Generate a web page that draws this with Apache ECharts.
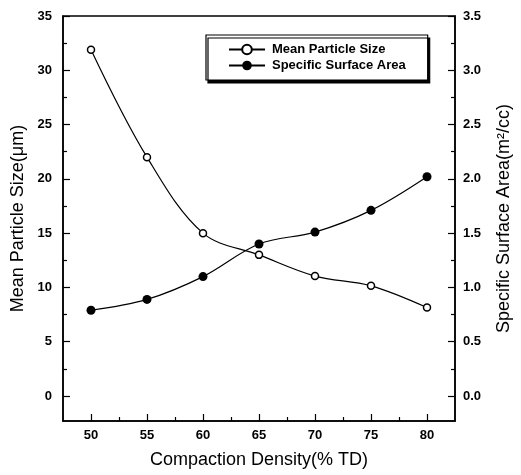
<!DOCTYPE html>
<html>
<head>
<meta charset="utf-8">
<script src="https://cdn.jsdelivr.net/npm/echarts@6/dist/echarts.min.js"></script>
<style>html,body{margin:0;padding:0;background:#fff}#c{width:521px;height:475px}</style>
</head>
<body>
<div id="c"></div>
<script>
const density = [50, 55, 60, 65, 70, 75, 80];
const meanParticleSize = [31.9, 22.0, 15.0, 13.0, 11.05, 10.15, 8.15];
const specificSurfaceArea = [0.79, 0.89, 1.1, 1.4, 1.51, 1.71, 2.02];
const xMajorTicks = [50, 55, 60, 65, 70, 75, 80];
const xMinorTicks = [52.5, 57.5, 62.5, 67.5, 72.5, 77.5];
const leftMajorTicks = [0, 5, 10, 15, 20, 25, 30, 35];
const leftMinorTicks = [2.5, 7.5, 12.5, 17.5, 22.5, 27.5, 32.5];
const rightMajorTicks = [0, 0.5, 1.0, 1.5, 2.0, 2.5, 3.0, 3.5];
const rightMinorTicks = [0.25, 0.75, 1.25, 1.75, 2.25, 2.75, 3.25];

const FONT = '"Liberation Sans", Arial, sans-serif';
const lineCol = '#000';
const chart = echarts.init(document.getElementById('c'), null, {renderer: 'canvas'});

const tickLbl = {fontFamily: FONT, fontSize: 13, fontWeight: 'bold', color: '#000'};

function xAx(major, ticks, showLabel, len) {
  return {
    type: 'value', position: 'bottom', min: 47.5, max: 82.5,
    name: major ? 'Compaction Density(% TD)' : '',
    nameLocation: 'middle', nameGap: 30,
    nameTextStyle: {fontFamily: FONT, fontSize: 18, color: '#000'},
    axisLine: {show: major, onZero: false, lineStyle: {color: lineCol, width: 1.5}},
    axisTick: {show: true, inside: true, length: len, customValues: ticks, lineStyle: {color: lineCol, width: 1.2}},
    axisLabel: {show: showLabel, customValues: ticks, margin: 8, ...tickLbl},
    splitLine: {show: false}
  };
}
function yAx(pos, min, max, ticks, showLabel, len, name, fmt) {
  return {
    type: 'value', position: pos, min: min, max: max,
    name: name, nameLocation: 'middle', nameGap: pos === 'left' ? 32 : 40,
    nameRotate: 90,
    nameTextStyle: {fontFamily: FONT, fontSize: 18, color: '#000'},
    axisLine: {show: !!name, onZero: false, lineStyle: {color: lineCol, width: 1.5}},
    axisTick: {show: true, inside: true, length: len, customValues: ticks, lineStyle: {color: lineCol, width: 1.2}},
    axisLabel: {show: showLabel, customValues: ticks, margin: pos === 'left' ? 11 : 8, formatter: fmt, ...tickLbl},
    splitLine: {show: false}
  };
}

chart.setOption({
  animation: false,
  backgroundColor: '#fff',
  grid: {left: 63, right: 61, top: 16, bottom: 54, show: true, borderColor: '#000', borderWidth: 1.5, backgroundColor: 'transparent'},
  legend: {
    orient: 'vertical', left: 206, top: 35,
    padding: [8, 22, 8, 22], itemGap: 3, itemWidth: 36, itemHeight: 12,
    borderColor: '#000', borderWidth: 1.2, backgroundColor: '#fff',
    shadowColor: '#000', shadowOffsetX: 2, shadowOffsetY: 3, shadowBlur: 0,
    textStyle: {fontFamily: FONT, fontSize: 13, fontWeight: 'bold', color: '#000', padding: [0, 0, 0, 2]},
    data: ['Mean Particle Size', 'Specific Surface Area']
  },
  xAxis: [
    xAx(true, xMajorTicks, true, 7),
    xAx(false, xMinorTicks, false, 4)
  ],
  yAxis: [
    yAx('left', -2.3, 35, leftMajorTicks, true, 7, 'Mean Particle Size(μm)', v => String(v)),
    yAx('right', -0.23, 3.5, rightMajorTicks, true, 7, 'Specific Surface Area(m²/cc)', v => v.toFixed(1)),
    yAx('left', -2.3, 35, leftMinorTicks, false, 4, '', null),
    yAx('right', -0.23, 3.5, rightMinorTicks, false, 4, '', null)
  ],
  series: [
    {
      name: 'Mean Particle Size', type: 'line', xAxisIndex: 0, yAxisIndex: 0,
      data: density.map((d, i) => [d, meanParticleSize[i]]),
      smooth: 0.35, symbol: 'circle', symbolSize: 7,
      itemStyle: {color: '#fff', borderColor: '#000', borderWidth: 1.5},
      lineStyle: {color: '#000', width: 1.2}
    },
    {
      name: 'Specific Surface Area', type: 'line', xAxisIndex: 0, yAxisIndex: 1,
      data: density.map((d, i) => [d, specificSurfaceArea[i]]),
      smooth: 0.35, symbol: 'circle', symbolSize: 9,
      itemStyle: {color: '#000', borderColor: '#000', borderWidth: 0},
      lineStyle: {color: '#000', width: 1.2}
    }
  ]
});
</script>
</body>
</html>
